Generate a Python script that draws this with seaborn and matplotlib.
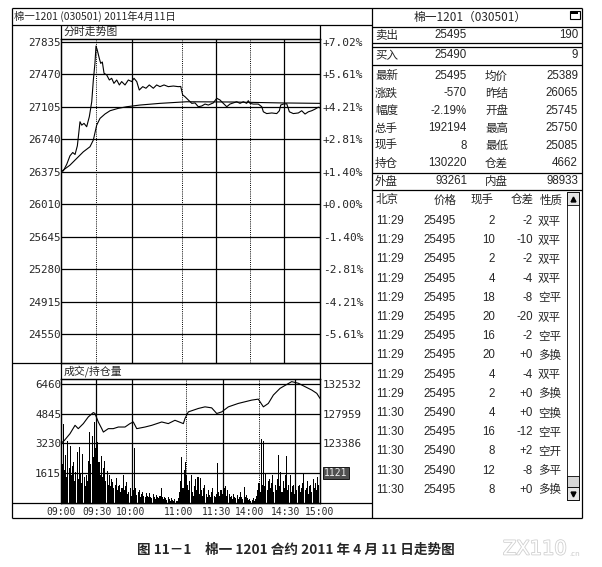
import matplotlib
matplotlib.use("Agg")
import numpy as np
import matplotlib.pyplot as plt
import matplotlib.patheffects as pe
from matplotlib.patches import Rectangle
from matplotlib.transforms import blended_transform_factory
import seaborn as sns

# ---- values ----
header_left = "棉一1201 (030501) 2011年4月11日"
price_title = "分时走势图"
volume_title = "成交/持仓量"
caption = "图 11－1　棉一 1201 合约 2011 年 4 月 11 日走势图"

# minutes since 09:00 on the trading clock (225 minutes = 09:00 .. 15:00)
price_minute = [0, 2.0, 5.0, 7.8, 10.2, 12.2, 14.2, 15.0, 16.5, 18.0, 20.0, 22.3, 24.6,
                26.7, 28.1, 29.5, 30.4, 31.5, 33.3, 34.5, 35.9, 37.4, 39.7, 42.0, 44.0,
                46.0, 48.4, 50.7, 52.7, 55.6, 58.5, 61.4, 63.4, 65.8, 68.0, 71.0, 73.8,
                76.7, 80.2, 83.1, 86.0, 89.5, 93.2, 97.6, 101.9, 104.0, 105.7, 107.7,
                110.6, 113.6, 116.4, 119.3, 122.2, 125.1, 128.0, 132.3, 135.3, 138.1,
                141.0, 144.0, 146.8, 149.7, 152.6, 155.5, 158.4, 161.3, 162.7, 164.2,
                167.1, 171.4, 174.4, 175.8, 178.7, 183.1, 187.4, 189.7, 190.9, 193.1,
                196.1, 198.4, 201.8, 206.2, 209.1, 212.0, 214.9, 217.8, 220.7, 223.5, 225]
price_value = [26380, 26385, 26460, 26555, 26592, 26570, 26667, 26760, 26938, 26900, 26920,
               26882, 26995, 27163, 27408, 27595, 27790, 27745, 27650, 27595, 27610, 27483,
               27465, 27408, 27427, 27370, 27408, 27352, 27390, 27352, 27408, 27390, 27427,
               27390, 27295, 27333, 27315, 27352, 27315, 27352, 27333, 27352, 27333, 27340,
               27333, 27335, 27240, 27220, 27183, 27145, 27150, 27107, 27115, 27137, 27126,
               27150, 27202, 27183, 27145, 27107, 27137, 27150, 27163, 27145, 27163, 27145,
               27175, 27145, 27137, 27137, 27107, 27050, 27030, 27037, 27030, 27062, 27126,
               27137, 27140, 27050, 27030, 27037, 27062, 27025, 27050, 27062, 27080, 27102,
               27095]

avg_minute = [0, 7.8, 13.6, 19.4, 25.2, 28.1, 31.0, 33.9, 38.2, 42.6, 49.8, 57.1, 68.6,
              86.0, 109.2, 150, 190, 225]
avg_value = [26375, 26450, 26525, 26600, 26657, 26733, 26900, 26976, 27025, 27062, 27089,
             27107, 27126, 27145, 27163, 27160, 27150, 27145]

# one bar per minute
volume = [
    900, 2100, 4300, 1800, 2600, 1400, 3390, 1900, 3120, 1500, 2000, 2220, 1200, 1700, 2760,
    1300, 3030, 1600, 1100, 2650, 1400, 900, 1500, 1200, 2300, 3840, 2100, 3660, 2500, 4375,
    3000, 4200, 3300, 2200, 1500, 2570, 1400, 1900, 2300, 1200, 1750, 1000, 1500, 900, 1300,
    1150, 800, 1000, 1330, 700, 900, 970, 600, 800, 1500, 700, 900, 1150, 500, 600,
    790, 400, 500, 700, 2960, 790, 450, 600, 700, 350, 500, 610, 400, 300, 550,
    400, 300, 550, 350, 250, 500, 300, 200, 450, 300, 250, 400, 790, 300, 200,
    350, 250, 160, 300, 200, 120, 250, 150, 100, 200, 120, 100, 250, 600, 1200,
    2490, 800, 1800, 2240, 1500, 1000, 700, 1200, 1500, 600, 400, 900, 1300, 700, 1400,
    500, 1350, 700, 400, 800, 1000, 500, 300, 700, 450, 300, 600, 800, 400, 300,
    500, 2150, 600, 400, 700, 500, 300, 800, 900, 400, 700, 500, 300, 400, 200,
    500, 300, 250, 450, 200, 350, 600, 300, 200, 870, 300, 450, 250, 150, 200,
    100, 150, 250, 100, 200, 400, 700, 1100, 600, 3500, 1000, 3390, 900, 1600, 700,
    1200, 1300, 800, 1100, 1500, 600, 1000, 700, 1300, 2580, 900, 1700, 600, 1200, 800,
    1500, 2530, 700, 1000, 1500, 600, 900, 1000, 500, 1200, 700, 900, 1000, 600, 800,
    1100, 1615, 700, 800, 1200, 500, 900, 1000, 600, 1300, 800, 1100, 700, 1400, 1000,
]

oi_minute = [0, 2.9, 7.8, 12.2, 15.0, 19.4, 23.7, 28.1, 29.5, 32.4, 35.4, 36.8, 41.1, 45.4,
             49.8, 55.6, 59.9, 62.8, 65.8, 73.0, 78.8, 87.5, 93.2, 99.0, 106.3, 107.7,
             110.6, 119.3, 125.1, 130.9, 135.3, 139.6, 145.4, 154.0, 165.7, 171.4, 175.8,
             180.1, 184.5, 190.3, 200.4, 206.2, 212.0, 217.8, 222.2, 225]
oi_value = [123400, 123850, 124890, 126175, 125665, 126440, 127465, 128140, 128000, 126690,
            125665, 125140, 125665, 125665, 125915, 125915, 126440, 126690, 125665, 125915,
            126175, 126690, 126440, 126950, 126440, 127215, 128240, 128765, 129015, 128860,
            127990, 128240, 129015, 129540, 130050, 130200, 129015, 129540, 130830, 131860,
            132890, 132640, 132115, 131600, 131090, 130315]

price_ticks = [27835, 27470, 27105, 26740, 26375, 26010, 25645, 25280, 24915, 24550]
pct_labels = ["+7.02%", "+5.61%", "+4.21%", "+2.81%", "+1.40%", "+0.00%",
              "-1.40%", "-2.81%", "-4.21%", "-5.61%"]
vol_ticks = [1615, 3230, 4845, 6460]
oi_ticks = [123386, 127959, 132532]
last_volume = "1121"
time_labels = ["09:00", "09:30", "10:00", "11:00", "11:30", "14:00", "14:30", "15:00"]

panel_title = "棉一1201（030501）"
quote_labels = ["卖出", "买入"]
quote_prices = ["25495", "25490"]
quote_sizes = ["190", "9"]
stat_labels_a = ["最新", "涨跌", "幅度", "总手", "现手", "持仓"]
stat_values_a = ["25495", "-570", "-2.19%", "192194", "8", "130220"]
stat_labels_b = ["均价", "昨结", "开盘", "最高", "最低", "仓差"]
stat_values_b = ["25389", "26065", "25745", "25750", "25085", "4662"]
outer_inner = ["外盘", "93261", "内盘", "98933"]
trade_header = ["北京", "价格", "现手", "仓差", "性质"]
trade_time = ["11:29"] * 10 + ["11:30"] * 5
trade_price = ["25495", "25495", "25495", "25495", "25495", "25495", "25495", "25495",
               "25495", "25495", "25490", "25495", "25490", "25490", "25495"]
trade_qty = ["2", "10", "2", "4", "18", "20", "16", "20", "4", "2", "4", "16", "8", "12", "8"]
trade_diff = ["-2", "-10", "-2", "-4", "-8", "-20", "-2", "+0", "-4", "+0", "+0", "-12",
              "+2", "-8", "+0"]
trade_kind = ["双平", "双平", "双平", "双平", "空平", "双平", "空平", "多换", "双平", "多换",
              "空换", "空平", "空开", "多平", "多换"]

# ---- styling ----
sns.set_style("white")
plt.rcParams["font.family"] = ["Noto Sans CJK SC", "DejaVu Sans"]
CJK = ["Noto Sans CJK SC", "DejaVu Sans"]
NUM = ["Liberation Sans", "Noto Sans CJK SC"]
MONO = "DejaVu Sans Mono"
LW = 0.9

W, H = 602, 567
fig = plt.figure(figsize=(W / 100, H / 100), dpi=100)
fig.patch.set_facecolor("white")

bg = fig.add_axes([0, 0, 1, 1])
bg.set_xlim(0, W)
bg.set_ylim(H, 0)
bg.set_axis_off()


def seg(x0, y0, x1, y1, lw=LW):
    bg.plot([x0, x1], [y0, y1], color="black", lw=lw, solid_capstyle="butt")


def px_axes(x0, y0, x1, y1):
    return fig.add_axes([x0 / W, 1 - y1 / H, (x1 - x0) / W, (y1 - y0) / H])


# frames
seg(12, 8, 582, 8)
seg(12, 518, 582, 518)
seg(12, 8, 12, 518)
seg(372, 8, 372, 518)
seg(582, 8, 582, 518)
seg(12, 25, 372, 25)
seg(61, 25, 61, 39)
seg(320, 25, 320, 39)
seg(12, 363, 372, 363)
seg(61, 363, 61, 379)
seg(320, 363, 320, 379)
seg(12, 503, 372, 503)
for y in [27, 43, 46.5, 64.5, 172.5, 189.5]:
    seg(372, y, 582, y)

bg.text(14, 16.5, header_left, fontsize=7.5, family=CJK, va="center", ha="left")
bg.text(64, 32, price_title, fontsize=7.8, family=CJK, va="center", ha="left")
bg.text(64, 371, volume_title, fontsize=7.8, family=CJK, va="center", ha="left")

# ---- price panel ----
ax_p = px_axes(61, 39, 320, 363)
sns.lineplot(x=avg_minute, y=avg_value, ax=ax_p, color="black", lw=0.8,
             estimator=None, errorbar=None)
sns.lineplot(x=price_minute, y=price_value, ax=ax_p, color="black", lw=0.8,
             estimator=None, errorbar=None)
ax_p.set_xlim(0, 225)
ax_p.set_ylim(24224, 27869)
ax_p.set_xticks([])
ax_p.set_yticks(price_ticks, [str(v) for v in price_ticks], fontsize=7.8, family=MONO)
ax_p.tick_params(axis="y", length=0, pad=0)
ax_p.yaxis.grid(True, color="black", lw=LW)
for m in [30, 105, 164]:
    ax_p.axvline(m, color="black", lw=0.7, ls=(0, (1, 1.2)))
for m in [62, 135, 194]:
    ax_p.axvline(m, color="black", lw=LW)
ax_pr = ax_p.twinx()
ax_pr.set_ylim(ax_p.get_ylim())
ax_pr.set_yticks(price_ticks, pct_labels, fontsize=8, family=MONO)
ax_pr.tick_params(axis="y", length=0, pad=2)
for a in (ax_p, ax_pr):
    a.set_xlabel("")
    a.set_ylabel("")
    for s in a.spines.values():
        s.set_color("black")
        s.set_linewidth(LW)

# ---- volume / open interest panel ----
ax_v = px_axes(61, 379, 320, 503)
sns.barplot(x=np.arange(len(volume)), y=volume, ax=ax_v, native_scale=True,
            color="black", saturation=1, width=0.9, linewidth=0, errorbar=None)
ax_v.set_xlim(0, 225)
ax_v.set_ylim(0, 6729)
ax_v.set_yticks(vol_ticks, [str(v) for v in vol_ticks], fontsize=7.8, family=MONO)
ax_v.tick_params(axis="y", length=0, pad=0)
ax_v.yaxis.grid(True, color="black", lw=LW)
ax_v.set_xticks([0, 31, 60, 102, 135, 164, 195, 225], time_labels, fontsize=7, family=MONO)
ax_v.tick_params(axis="x", length=0, pad=3)
for m in [30, 62, 141, 203]:
    ax_v.axvline(m, color="black", lw=LW)
for m in [109, 172]:
    ax_v.axvline(m, color="black", lw=0.7, ls=(0, (1, 1.2)))

ax_o = ax_v.twinx()
sns.lineplot(x=oi_minute, y=oi_value, ax=ax_o, color="black", lw=0.8,
             estimator=None, errorbar=None)
ax_o.set_xlim(0, 225)
ax_o.set_ylim(114240, 133294)
ax_o.set_yticks(oi_ticks, [str(v) for v in oi_ticks], fontsize=7.8, family=MONO)
ax_o.tick_params(axis="y", length=0, pad=2)
ax_v.text(1.015, vol_ticks[0], last_volume,
          transform=blended_transform_factory(ax_v.transAxes, ax_v.transData),
          fontsize=7, family=MONO, color="#eeeeee", va="center", ha="left",
          bbox=dict(boxstyle="square,pad=0.12", fc="#505050", ec="black", lw=0.6))
for a in (ax_v, ax_o):
    a.set_xlabel("")
    a.set_ylabel("")
    for s in a.spines.values():
        s.set_color("black")
        s.set_linewidth(LW)

# ---- quote panel ----
FS = 8.3
bg.text(470, 17, panel_title, fontsize=8.5, family=CJK, ha="center", va="center")
bg.add_patch(Rectangle((569.5, 10.5), 10, 8, fc="white", ec="black", lw=0.8))
bg.add_patch(Rectangle((571, 12), 7, 2.2, fc="black", lw=0))

for i, (lab, pr, sz) in enumerate(zip(quote_labels, quote_prices, quote_sizes)):
    y = [35.5, 55.5][i]
    bg.text(375, y, lab, fontsize=FS, family=CJK, va="center")
    bg.text(467, y, pr, fontsize=FS, family=NUM, va="center", ha="right")
    bg.text(578, y, sz, fontsize=FS, family=NUM, va="center", ha="right")

for i in range(len(stat_labels_a)):
    y = 76 + 17.4 * i
    bg.text(375, y, stat_labels_a[i], fontsize=FS, family=CJK, va="center")
    bg.text(467, y, stat_values_a[i], fontsize=FS, family=NUM, va="center", ha="right")
    bg.text(485, y, stat_labels_b[i], fontsize=FS, family=CJK, va="center")
    bg.text(578, y, stat_values_b[i], fontsize=FS, family=NUM, va="center", ha="right")

y = 181.5
bg.text(375, y, outer_inner[0], fontsize=FS, family=CJK, va="center")
bg.text(467, y, outer_inner[1], fontsize=FS, family=NUM, va="center", ha="right")
bg.text(485, y, outer_inner[2], fontsize=FS, family=CJK, va="center")
bg.text(578, y, outer_inner[3], fontsize=FS, family=NUM, va="center", ha="right")

y = 200
bg.text(376, y, trade_header[0], fontsize=FS, family=CJK, va="center")
for txt, xc in zip(trade_header[1:], [445, 482, 522, 551]):
    bg.text(xc, y, txt, fontsize=FS, family=CJK, va="center", ha="center")

for i in range(len(trade_time)):
    y = 221 + 19.2 * i
    bg.text(376, y, trade_time[i], fontsize=FS, family=NUM, va="center")
    bg.text(456, y, trade_price[i], fontsize=FS, family=NUM, va="center", ha="right")
    bg.text(495, y, trade_qty[i], fontsize=FS, family=NUM, va="center", ha="right")
    bg.text(533, y, trade_diff[i], fontsize=FS, family=NUM, va="center", ha="right")
    bg.text(538, y, trade_kind[i], fontsize=FS, family=CJK, va="center")

# scrollbar
bg.add_patch(Rectangle((567, 192), 12, 308, fc="white", ec="black", lw=0.6))
bg.add_patch(Rectangle((567, 192), 12, 13, fc="#e4e4e4", ec="black", lw=0.6))
bg.add_patch(Rectangle((567, 476), 12, 11, fc="#d6d6d6", ec="black", lw=0.6))
bg.add_patch(Rectangle((567, 487), 12, 13, fc="#e4e4e4", ec="black", lw=0.6))
bg.plot(573, 198.5, marker="^", ms=3.5, color="black")
bg.plot(573, 493.5, marker="v", ms=3.5, color="black")

# caption and faint watermark
bg.text(296, 550, caption, fontsize=9.8, family=CJK, weight="bold", ha="center", va="center")
wm = bg.text(503, 549, "ZX110", fontsize=14, family="DejaVu Sans", color="white",
             ha="left", va="center")
wm.set_path_effects([pe.withStroke(linewidth=1.2, foreground="#d0d0d0")])
bg.text(569, 554, ".cn", fontsize=5.5, color="#cccccc", ha="left", va="center")

fig.savefig("out.png", dpi=100, facecolor="white")
